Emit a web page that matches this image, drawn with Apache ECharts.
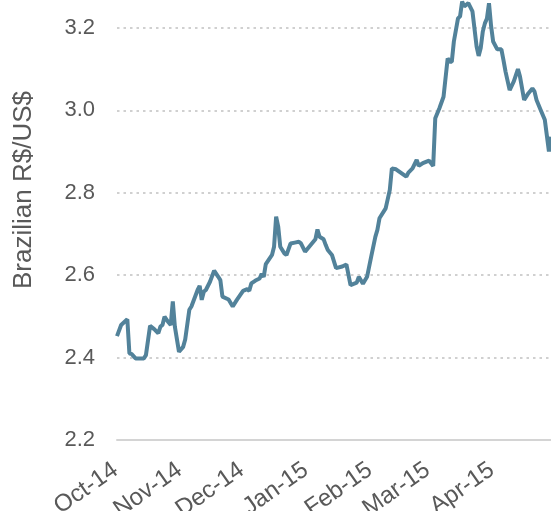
<!DOCTYPE html>
<html>
<head>
<meta charset="utf-8">
<script src="https://cdn.jsdelivr.net/npm/echarts@6/dist/echarts.min.js"></script>
<style>
  html, body { margin: 0; padding: 0; background: #fff; }
  #main { width: 551px; height: 511px; }
</style>
</head>
<body>
<div id="main"></div>
<script>
// 日期（按月分组写，便于核对）
var dates = [
  '2014-10-01','2014-10-03','2014-10-06','2014-10-07','2014-10-08','2014-10-10','2014-10-14','2014-10-15','2014-10-17','2014-10-19',
  '2014-10-21','2014-10-22','2014-10-23','2014-10-24','2014-10-26','2014-10-27','2014-10-28','2014-10-29','2014-10-31',
  '2014-11-02','2014-11-03','2014-11-05','2014-11-06','2014-11-09','2014-11-10','2014-11-11','2014-11-12','2014-11-13','2014-11-15',
  '2014-11-17','2014-11-19','2014-11-20','2014-11-21','2014-11-24','2014-11-26','2014-11-28',
  '2014-12-01','2014-12-03','2014-12-04','2014-12-05','2014-12-07','2014-12-09','2014-12-10','2014-12-11','2014-12-12','2014-12-15',
  '2014-12-16','2014-12-17','2014-12-18','2014-12-19','2014-12-21','2014-12-22','2014-12-24','2014-12-26','2014-12-28','2014-12-29','2014-12-31',
  '2015-01-02','2015-01-05','2015-01-06','2015-01-07','2015-01-09','2015-01-10','2015-01-11','2015-01-13','2015-01-15','2015-01-18',
  '2015-01-20','2015-01-22','2015-01-25','2015-01-26','2015-01-28','2015-01-30',
  '2015-02-01','2015-02-03','2015-02-04','2015-02-05','2015-02-08','2015-02-10','2015-02-11','2015-02-13','2015-02-18','2015-02-19',
  '2015-02-21','2015-02-23','2015-02-24','2015-02-26',
  '2015-03-01','2015-03-03','2015-03-04','2015-03-06','2015-03-08','2015-03-10','2015-03-11','2015-03-12','2015-03-13','2015-03-15',
  '2015-03-16','2015-03-17','2015-03-18','2015-03-20','2015-03-22','2015-03-24','2015-03-25','2015-03-26','2015-03-27','2015-03-28',
  '2015-03-29','2015-03-30','2015-03-31',
  '2015-04-01','2015-04-03','2015-04-05','2015-04-06','2015-04-07','2015-04-09','2015-04-11','2015-04-13','2015-04-14','2015-04-16',
  '2015-04-18','2015-04-20','2015-04-21','2015-04-22','2015-04-24','2015-04-26','2015-04-28','2015-04-29'
];
// 汇率 R$/US$
var rates = [
  2.452,2.479,2.493,2.41,2.409,2.398,2.398,2.406,2.477,2.469,
  2.459,2.475,2.479,2.499,2.485,2.479,2.536,2.475,2.414,
  2.426,2.444,2.516,2.524,2.564,2.574,2.54,2.56,2.564,2.584,
  2.611,2.596,2.588,2.548,2.541,2.524,2.54,
  2.562,2.566,2.562,2.58,2.587,2.592,2.603,2.596,2.627,2.649,
  2.669,2.742,2.718,2.669,2.653,2.649,2.677,2.679,2.681,2.677,2.657,
  2.669,2.687,2.711,2.693,2.687,2.673,2.661,2.649,2.617,2.621,
  2.626,2.576,2.582,2.596,2.579,2.596,
  2.645,2.693,2.71,2.738,2.762,2.807,2.859,2.857,2.839,2.849,
  2.859,2.88,2.865,2.872,
  2.878,2.865,2.981,3.005,3.033,3.126,3.118,3.118,3.167,3.223,
  3.228,3.264,3.252,3.26,3.24,3.155,3.132,3.151,3.191,3.211,
  3.223,3.26,3.205,
  3.167,3.148,3.148,3.122,3.094,3.049,3.07,3.1,3.082,3.025,
  3.041,3.053,3.046,3.025,3.001,2.977,2.9,2.936
];
var monthNames = ['Jan','Feb','Mar','Apr','May','Jun','Jul','Aug','Sep','Oct','Nov','Dec'];

var seriesData = [];
for (var i = 0; i < dates.length; i++) {
  seriesData.push([dates[i], rates[i]]);
}

var myChart = echarts.init(document.getElementById('main'));
var option = {
  animation: false,
  grid: { left: 117, right: 0, top: -3, bottom: 71, outerBoundsMode: 'none' },
  xAxis: {
    type: 'time',
    min: '2014-10-01',
    max: '2015-04-29',
    minInterval: 28 * 24 * 3600 * 1000,
    maxInterval: 31 * 24 * 3600 * 1000,
    axisLine: { lineStyle: { color: '#d4d4d4', width: 2 } },
    axisTick: { show: false },
    splitLine: { show: false },
    axisLabel: {
      rotate: 35,
      margin: 12,
      verticalAlign: 'top',
      padding: [0, 10, 0, 0],
      color: '#595959',
      fontSize: 24,
      fontFamily: 'Liberation Sans',
      formatter: function (val) {
        var d = new Date(val);
        return monthNames[d.getMonth()] + '-' + String(d.getFullYear()).slice(2);
      }
    }
  },
  yAxis: {
    type: 'value',
    min: 2.2,
    max: 3.275,
    interval: 0.2,
    name: 'Brazilian R$/US$',
    nameLocation: 'middle',
    nameGap: 80,
    nameTextStyle: {
      color: '#595959',
      fontSize: 26,
      fontFamily: 'Liberation Sans',
      padding: [0, 0, 0, 57]
    },
    axisLine: { show: false },
    axisTick: { show: false },
    axisLabel: {
      margin: 22,
      color: '#595959',
      fontSize: 22,
      fontFamily: 'Liberation Sans',
      showMaxLabel: false,
      formatter: function (v) { return v.toFixed(1); }
    },
    splitLine: {
      lineStyle: { color: '#d0d0d0', width: 2, type: [2.5, 4] }
    }
  },
  series: [
    {
      name: 'BRL',
      type: 'line',
      data: seriesData,
      showSymbol: false,
      clip: true,
      lineStyle: { color: '#52829a', width: 4 }
    }
  ]
};
myChart.setOption(option);
</script>
</body>
</html>
